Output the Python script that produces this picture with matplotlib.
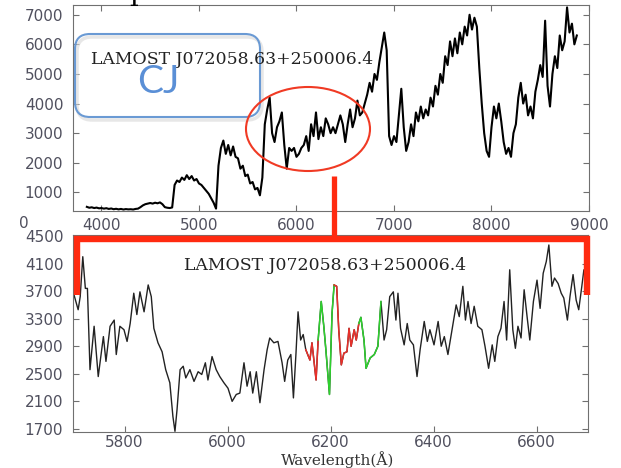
import numpy as np
import matplotlib
matplotlib.use("Agg")
import matplotlib.pyplot as plt
from matplotlib.patches import Ellipse, FancyBboxPatch

# full LAMOST spectrum, 25 A steps starting at 3850 A
wl_start = 3850
wl_step = 25
flux_full = [
    510, 480, 495, 470, 485, 460, 470, 450,          # 3850
    465, 440, 455, 430, 445, 425, 440, 420,          # 4050
    435, 425, 430, 420, 440, 450, 500, 560,          # 4250
    600, 620, 640, 620, 650, 630, 660, 600,          # 4450
    500, 480, 470, 490, 1250, 1400, 1350, 1500,      # 4650
    1420, 1580, 1450, 1550, 1400, 1450, 1300, 1250,  # 4850
    1150, 1050, 950, 800, 650, 450, 1900, 2500,      # 5050
    2750, 2300, 2600, 2250, 2550, 2200, 2150, 1800,  # 5250
    1900, 1550, 1600, 1300, 1350, 1100, 1150, 900,   # 5450
    1500, 3300, 3800, 4200, 3000, 2700, 3200, 3400,  # 5650
    3700, 2600, 1800, 2500, 2400, 2500, 2200, 2300,  # 5850
    2500, 2600, 2900, 2400, 3300, 2900, 3700, 2800,  # 6050
    3200, 2900, 3500, 3300, 3000, 3200, 3000, 3300,  # 6250
    3600, 3300, 2700, 3300, 3800, 3200, 3500, 4100,  # 6450
    3600, 3700, 4000, 4300, 4700, 4400, 5000, 4800,  # 6650
    5400, 5900, 6400, 5800, 2900, 2600, 2900, 2700,  # 6850
    3600, 4500, 3200, 2400, 2700, 3300, 2900, 3700,  # 7050
    3400, 3900, 3500, 3800, 3600, 4200, 3900, 4600,  # 7250
    4300, 5000, 4700, 5600, 5300, 6100, 5600, 6200,  # 7450
    5700, 6400, 6000, 6600, 6300, 7000, 6500, 6900,  # 7650
    6600, 5200, 4000, 3000, 2400, 2200, 3200, 3900,  # 7850
    3500, 4000, 3400, 2700, 2300, 2500, 2200, 3000,  # 8050
    3300, 4200, 4700, 4000, 4300, 3600, 3900, 3500,  # 8250
    4400, 4800, 5300, 4900, 6800, 4600, 3900, 5000,  # 8450
    5600, 5200, 6300, 5800, 6100, 7250, 6400, 6700,  # 8650
    6000, 6300,                                      # 8850
]
wl_full = wl_start + wl_step * np.arange(len(flux_full))

# zoomed part 5700-6700 A
wl_zoom = [
    5702, 5710, 5714, 5719, 5724, 5728, 5733, 5741, 5749, 5759,
    5764, 5772, 5780, 5784, 5791, 5799, 5805, 5811, 5818, 5824,
    5830, 5838, 5846, 5852, 5857, 5865, 5873, 5880, 5888, 5894,
    5898, 5902, 5908, 5914, 5919, 5927, 5935, 5943, 5950, 5957,
    5962, 5970, 5978, 5985, 5993, 6001, 6009, 6017, 6024, 6032,
    6038, 6044, 6049, 6056, 6063, 6071, 6077, 6082, 6090, 6098,
    6106, 6111, 6117, 6123, 6128, 6133, 6137, 6142, 6147, 6152,
    6160, 6164, 6172, 6176, 6182, 6187, 6191, 6198, 6203, 6207,
    6212, 6216, 6221, 6226, 6232, 6236, 6240, 6246, 6250, 6255,
    6259, 6265, 6269, 6277, 6285, 6292, 6298, 6304, 6309, 6315,
    6322, 6327, 6331, 6336, 6343, 6349, 6354, 6361, 6368, 6374,
    6382, 6388, 6393, 6401, 6409, 6415, 6421, 6428, 6436, 6444,
    6450, 6457, 6462, 6467, 6473, 6479, 6486, 6494, 6500, 6507,
    6514, 6519, 6525, 6531, 6537, 6542, 6548, 6554, 6559, 6564,
    6570, 6576, 6582, 6587, 6594, 6601, 6607, 6613, 6619, 6624,
    6630, 6635, 6642, 6648, 6653, 6660, 6665, 6671, 6677, 6682,
    6688, 6692, 6696, 6700,
]
flux_zoom = [
    3645, 3430, 3620, 4200, 3740, 3740, 2560, 3190, 2460, 3040,
    2680, 3190, 3280, 2780, 3190, 3140, 2970, 3230, 3670, 3360,
    3690, 3400, 3790, 3620, 3160, 2950, 2820, 2560, 2370, 1880,
    1665, 1980, 2560, 2610, 2440, 2560, 2390, 2530, 2490, 2660,
    2410, 2750, 2560, 2460, 2370, 2290, 2100, 2200, 2220, 2660,
    2320, 2530, 2220, 2530, 2080, 2560, 2850, 3020, 2950, 2970,
    2660, 2390, 2700, 2780, 2150, 2800, 3400, 2990, 3070, 2850,
    2700, 2950, 2410, 2990, 3550, 3190, 2850, 2200, 3380, 3790,
    3770, 3140, 2630, 2800, 2820, 3160, 2900, 3140, 2990, 3230,
    3320, 2990, 2580, 2730, 2780, 2900, 3550, 2990, 3140, 3620,
    3690, 3280, 3670, 3160, 2920, 3230, 2990, 2920, 2460, 2850,
    3260, 2970, 3140, 2920, 3260, 2900, 3040, 2780, 3140, 3500,
    3330, 3770, 3280, 3550, 3230, 3480, 3190, 3140, 2900, 2580,
    2920, 2680, 3040, 3160, 3550, 2990, 4010, 3140, 2870, 3190,
    3020, 3720, 3310, 2990, 3550, 3860, 3450, 3960, 4130, 4370,
    3770, 3890, 3810, 3670, 3600, 3280, 3620, 3940, 3570, 3430,
    3770, 4010, 3840, 4450,
]
# highlighted bands (start, end, colour)
bands = [(6152, 6176, '#e8302a'), (6176, 6207, '#2ed12e'),
         (6207, 6255, '#e8302a'), (6255, 6298, '#2ed12e')]

name = 'LAMOST J072058.63+250006.4'
tick_col = '#50505e'
spine_col = '#707070'

W, H = 621, 468
fig = plt.figure(figsize=(W / 100, H / 100), dpi=100)

def style(ax):
    for s in ax.spines.values():
        s.set_color(spine_col)
        s.set_linewidth(0.8)
    ax.tick_params(direction='in', length=4, width=0.8, color=spine_col,
                   top=True, right=True, labelsize=11, labelcolor=tick_col)

# upper panel
ax1 = fig.add_axes([73 / W, 1 - 211 / H, (589 - 73) / W, 206 / H])
ax1.plot(wl_full, flux_full, color='black', lw=1.5)
ax1.set_xlim(3708, 9000)
ax1.set_ylim(370, 7330)
ax1.set_xticks([4000, 5000, 6000, 7000, 8000, 9000])
ax1.set_yticks([1000, 2000, 3000, 4000, 5000, 6000, 7000])
style(ax1)
ax1.tick_params(axis='y', pad=7)
ax1.tick_params(axis='x', pad=5)

# lower panel
ax2 = fig.add_axes([73 / W, 1 - 432 / H, (588 - 73) / W, 197 / H])
ax2.plot(wl_zoom, flux_zoom, color='#222222', lw=1.0)
wz = np.array(wl_zoom)
fz = np.array(flux_zoom)
for lo, hi, c in bands:
    m = (wz >= lo) & (wz <= hi)
    ax2.plot(wz[m], fz[m], color=c, lw=1.1)
ax2.set_xlim(5700, 6700)
ax2.set_ylim(1655, 4515)
ax2.set_xticks([5800, 6000, 6200, 6400, 6600])
ax2.set_yticks([1700, 2100, 2500, 2900, 3300, 3700, 4100, 4500])
style(ax2)
ax2.tick_params(axis='y', pad=7)
ax2.tick_params(axis='x', pad=2)

# overlay in pixel coordinates for the annotations
ov = fig.add_axes([0, 0, 1, 1], zorder=10)
ov.set_xlim(0, W)
ov.set_ylim(H, 0)
ov.axis('off')
ov.patch.set_alpha(0)

ov.text(24, 223, '0', fontsize=11, color=tick_col, ha='center', va='center')
ov.text(138, 0, 'p', fontsize=20, family='DejaVu Serif', ha='center', va='baseline')

ov.text(91, 59, name, fontsize=12.4, family='DejaVu Serif', color='#222222',
        ha='left', va='center')
ov.text(184, 265, name, fontsize=12.4, family='DejaVu Serif', color='#222222',
        ha='left', va='center')
ov.text(338, 465, 'Wavelength(Å)', fontsize=11, family='DejaVu Serif',
        color='#333333', ha='center', va='baseline')

shadow = FancyBboxPatch((77, 37), 185, 83, boxstyle='round,pad=0,rounding_size=15',
                        fc='none', ec='#d8d8d8', lw=2.5, alpha=0.6)
ov.add_patch(shadow)
box = FancyBboxPatch((75, 34), 185, 83, boxstyle='round,pad=0,rounding_size=15',
                     fc='none', ec='#6a9ad4', lw=1.5)
ov.add_patch(box)
ov.text(158, 82, 'CJ', fontsize=28, family='Lato', color='#5a8fd6',
        ha='center', va='center')

ov.add_patch(Ellipse((308, 129), 124, 84, fc='none', ec='#f03a24', lw=1.5))

red = '#ff2a10'
ov.plot([334, 334], [176, 238], color=red, lw=3.8, solid_capstyle='butt')
ov.plot([76.5, 76.5, 586.5, 586.5], [295, 238.5, 238.5, 295], color=red, lw=4.6,
        solid_joinstyle='miter', solid_capstyle='butt')

fig.savefig('out.png', dpi=100)
